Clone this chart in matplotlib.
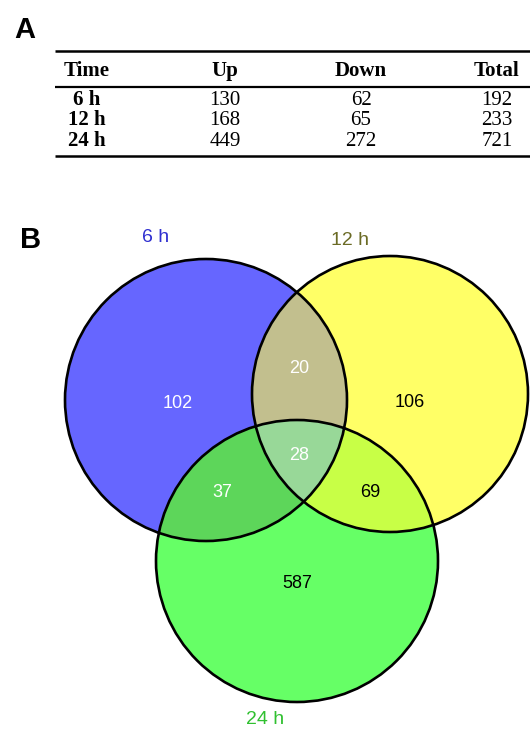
import numpy as np
import matplotlib.pyplot as plt
from matplotlib.patches import Circle, Polygon

# Table values (panel A)
times = ['6 h', '12 h', '24 h']
up = [130, 168, 449]
down = [62, 65, 272]
total = [192, 233, 721]
headers = ['Time', 'Up', 'Down', 'Total']

# Venn region counts (panel B)
set_names = ['6 h', '12 h', '24 h']
only_6, only_12, only_24 = 102, 106, 587
n_6_12, n_6_24, n_12_24 = 20, 37, 69
n_all = 28

fig = plt.figure(figsize=(5.3, 7.35), dpi=100)
ax = fig.add_axes([0, 0, 1, 1])
ax.set_xlim(0, 530)
ax.set_ylim(735, 0)
ax.axis('off')

serif = 'Liberation Serif'
sans = 'Liberation Sans'

# ---- panel A: table ----
ax.text(25, 30, 'A', fontsize=21, fontweight='bold', family=sans,
        ha='center', va='center')
cols = [87, 225, 361, 497]
ax.hlines([51, 156], 55, 530, color='black', lw=1.8)
ax.hlines(87, 55, 530, color='black', lw=1.6)
for x, h in zip(cols, headers):
    ax.text(x, 71, h, fontsize=15, fontweight='bold', family=serif,
            ha='center', va='center')
row_y = [100, 120, 141]
for y, t, u, d, s in zip(row_y, times, up, down, total):
    ax.text(cols[0], y, t, fontsize=15, fontweight='bold', family=serif,
            ha='center', va='center')
    for x, v in zip(cols[1:], (u, d, s)):
        ax.text(x, y, str(v), fontsize=15, family=serif,
                ha='center', va='center')

# ---- panel B: Venn diagram ----
ax.text(31, 240, 'B', fontsize=21, fontweight='bold', family=sans,
        ha='center', va='center')

circles = [((206, 400), 141), ((390, 394), 138), ((297, 561), 141)]
fills = ['#6666ff', '#ffff66', '#66ff66']


def region(idx):
    # convex intersection of the chosen circles, as a polygon
    pts = []
    th = np.linspace(0, 2 * np.pi, 3000, endpoint=False)
    for i in idx:
        (cx, cy), r = circles[i]
        p = np.column_stack([cx + r * np.cos(th), cy + r * np.sin(th)])
        keep = np.ones(len(p), bool)
        for j in idx:
            if j == i:
                continue
            (ox, oy), rr = circles[j]
            keep &= np.hypot(p[:, 0] - ox, p[:, 1] - oy) <= rr + 1e-6
        pts.append(p[keep])
    pts = np.vstack(pts)
    c = pts.mean(axis=0)
    order = np.argsort(np.arctan2(pts[:, 1] - c[1], pts[:, 0] - c[0]))
    return pts[order]


for (c, r), col in zip(circles, fills):
    ax.add_patch(Circle(c, r, facecolor=col, edgecolor='none'))
for idx, col in [((0, 1), '#c2bf8e'), ((0, 2), '#5dd65a'),
                 ((1, 2), '#c8ff46'), ((0, 1, 2), '#98d898')]:
    ax.add_patch(Polygon(region(idx), closed=True, facecolor=col,
                         edgecolor='none'))
for c, r in circles:
    ax.add_patch(Circle(c, r, fill=False, edgecolor='black', lw=1.9))

counts = [
    (178, 403, only_6, 'white'),
    (410, 402, only_12, 'black'),
    (297, 583, only_24, 'black'),
    (299, 368, n_6_12, 'white'),
    (222, 492, n_6_24, 'white'),
    (370, 492, n_12_24, 'black'),
    (299, 455, n_all, 'white'),
]
for x, y, n, col in counts:
    ax.text(x, y, str(n), fontsize=13, family=sans, color=col,
            ha='center', va='center')

label_pos = [(156, 237), (350, 240), (265, 720)]
label_cols = ['#3030d0', '#6b6b25', '#30c030']
for (x, y), name, col in zip(label_pos, set_names, label_cols):
    ax.text(x, y, name, fontsize=14, family=sans, color=col,
            ha='center', va='center')

fig.savefig('out.png', dpi=100)
